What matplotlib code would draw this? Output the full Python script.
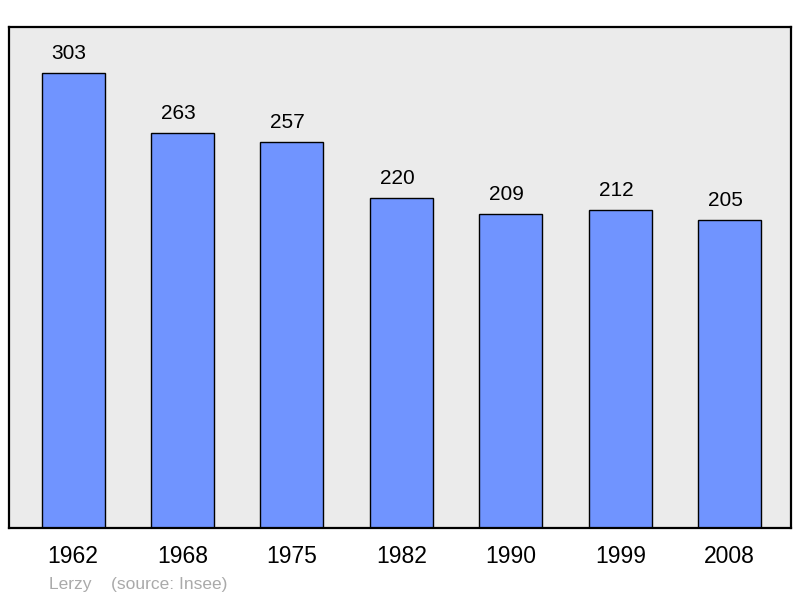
import matplotlib.pyplot as plt
from matplotlib.transforms import blended_transform_factory

years = ["1962", "1968", "1975", "1982", "1990", "1999", "2008"]
population = [303, 263, 257, 220, 209, 212, 205]

plt.rcParams['font.family'] = ['Liberation Sans', 'DejaVu Sans']

fig = plt.figure(figsize=(8, 5.98), dpi=100)
ax = fig.add_axes([0.01125, 0.1171, 0.9775, 0.8377])
ax.set_facecolor('#ebebeb')

pos = range(len(years))
ax.bar(pos, population, width=0.576, color='#7094ff', edgecolor='black',
       linewidth=1.0, zorder=2)

for x, v in zip(pos, population):
    ax.annotate(str(v), (x, v), xytext=(-3, 14), textcoords='offset points',
                ha='center', va='center', fontsize=15)

ax.set_xlim(-0.585, 6.56)
ax.set_ylim(0, 333.6)
ax.set_yticks([])
ax.set_xticks([])

trans = blended_transform_factory(ax.transData, ax.transAxes)
for x, y in zip(pos, years):
    ax.text(x, -0.056, y, transform=trans, ha='center', va='center', fontsize=16.5)

for s in ax.spines.values():
    s.set_linewidth(1.6)

fig.text(49 / 800, 1 - 584 / 598, "Lerzy    (source: Insee)", color='#aaaaaa',
         fontsize=12.5, ha='left', va='center')

fig.savefig("out.png", dpi=100)
